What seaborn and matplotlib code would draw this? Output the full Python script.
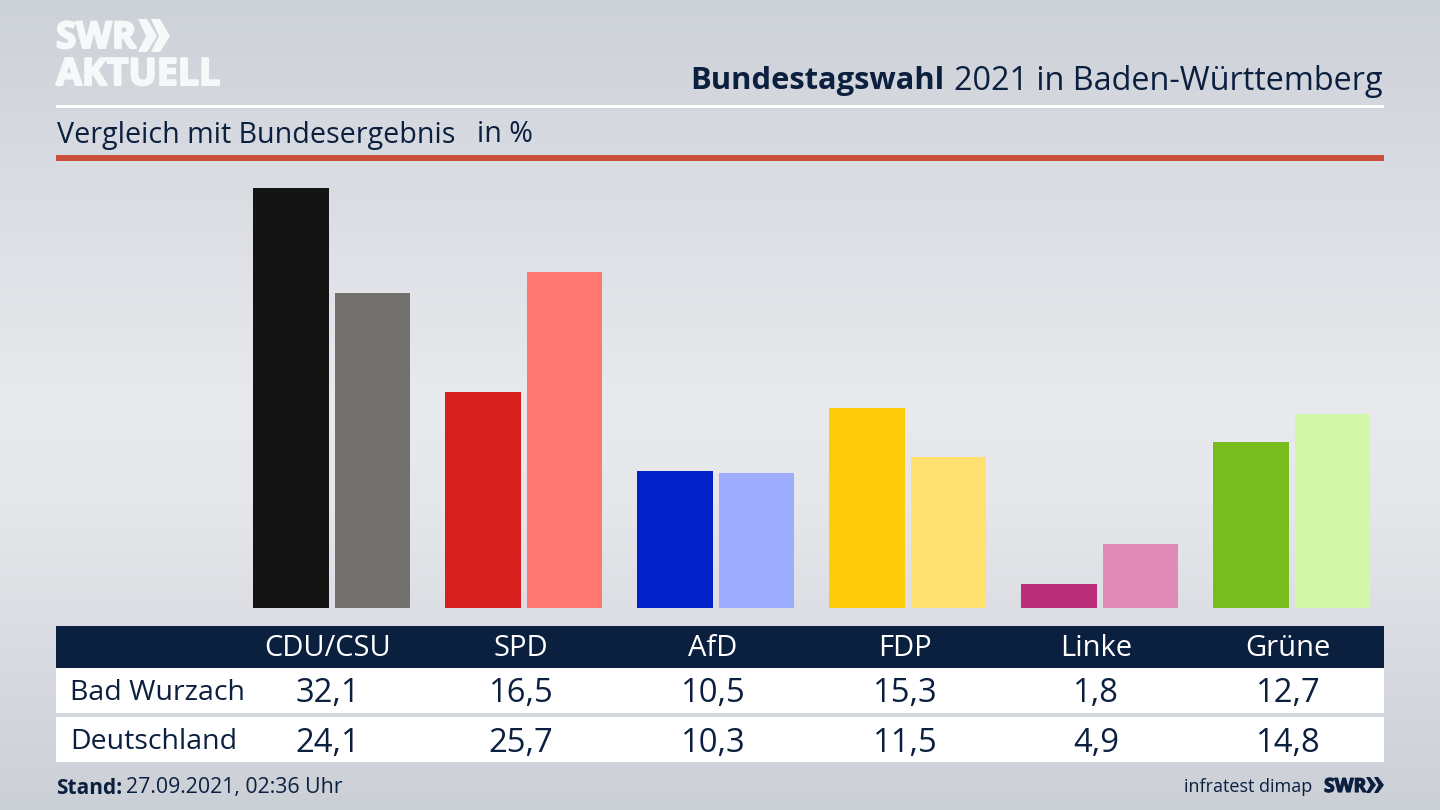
import matplotlib
matplotlib.use("Agg")
import matplotlib.patheffects as pe
import matplotlib.pyplot as plt
from matplotlib.colors import LinearSegmentedColormap
from matplotlib.patches import Polygon, Rectangle
import numpy as np
import pandas as pd
import seaborn as sns

parteien = ['CDU/CSU', 'SPD', 'AfD', 'FDP', 'Linke', 'Grüne']
bad_wurzach = [32.1, 16.5, 10.5, 15.3, 1.8, 12.7]
deutschland = [24.1, 25.7, 10.3, 11.5, 4.9, 14.8]
farben_ort = ['#141414', '#d7201e', '#0221c8', '#ffcc0a', '#bb2f7a', '#78bd1e']
farben_bund = ['#73716d', '#ff7771', '#9eacff', '#ffe070', '#e08ab8', '#d3f7a9']
tabellen_x = [328, 521, 713, 905, 1096, 1288]

NAVY = '#0b1f3f'
LOGO = '#f7f8f9'

sns.set_theme(style="white")
plt.rcParams['font.family'] = ['Open Sans', 'DejaVu Sans']

df = pd.DataFrame({
    'Partei': parteien * 2,
    'Prozent': bad_wurzach + deutschland,
    'Gebiet': ['Bad Wurzach'] * 6 + ['Deutschland'] * 6,
})

fig = plt.figure(figsize=(14.4, 8.1), dpi=100)

# background layer in pixel coordinates
bg = fig.add_axes([0, 0, 1, 1], zorder=0)
cmap = LinearSegmentedColormap.from_list(
    'bg', [(0, '#cdd1d8'), (0.5, '#e9eaee'), (0.62, '#e6e7eb'), (1, '#cbcfd6')])
bg.imshow(np.linspace(0, 1, 256).reshape(-1, 1), cmap=cmap, aspect='auto',
          extent=[0, 1440, 810, 0])
bg.set_xlim(0, 1440)
bg.set_ylim(810, 0)
bg.axis('off')

# bars
ax = fig.add_axes([235.6 / 1440, (810 - 608) / 810, 1152 / 1440, 433 / 810], zorder=1)
sns.barplot(data=df, x='Partei', y='Prozent', hue='Gebiet', width=0.85, gap=0.075,
            legend=False, ax=ax, saturation=1, linewidth=0)
for container, farben in zip(ax.containers, [farben_ort, farben_bund]):
    for bar, farbe in zip(container, farben):
        bar.set_facecolor(farbe)
        bar.set_edgecolor('none')
ax.set_xlim(-0.5, 5.5)
ax.set_ylim(0, 433 / 13.09)
ax.axis('off')
ax.patch.set_alpha(0)

# header
bg.text(1383, 81, '2021 in Baden-Württemberg', ha='right', va='center', fontsize=23.3,
        color=NAVY)
bg.text(944, 81, 'Bundestagswahl', ha='right', va='center', fontsize=22.2,
        fontweight='bold', color=NAVY)
bg.add_patch(Rectangle((56, 104.5), 1328, 3, color='white', lw=0))
bg.text(57, 135, 'Vergleich mit Bundesergebnis', va='center', fontsize=20.6, color=NAVY)
bg.text(477, 135, 'in %', va='center', fontsize=20.6, color=NAVY)
bg.add_patch(Rectangle((56, 155), 1328, 5.5, color='#c8503c', lw=0))

# logo
dick = [pe.withStroke(linewidth=1.5, foreground=LOGO)]
bg.text(56, 38, 'SWR', va='center', fontsize=26.5, fontweight='bold', color=LOGO,
        path_effects=dick)
bg.text(56, 75, 'AKTUELL', va='center', fontsize=27, fontweight='bold', color=LOGO,
        path_effects=dick)
for x0 in (138, 151):
    bg.add_patch(Polygon([(x0, 19), (x0 + 9, 19), (x0 + 19, 36), (x0 + 9, 52), (x0, 52),
                          (x0 + 8, 36)], color=LOGO, lw=0))

# table
bg.add_patch(Rectangle((56, 626), 1328, 42, color=NAVY, lw=0))
bg.add_patch(Rectangle((56, 668), 1328, 45, color='white', lw=0))
bg.add_patch(Rectangle((56, 717), 1328, 45, color='white', lw=0))
bg.text(70, 693, 'Bad Wurzach', va='center', fontsize=20.5, color=NAVY)
bg.text(70, 742, 'Deutschland', va='center', fontsize=20.5, color=NAVY)
for x, partei, wert_ort, wert_bund in zip(tabellen_x, parteien, bad_wurzach, deutschland):
    bg.text(x, 649, partei, ha='center', va='center', fontsize=21, color='white')
    bg.text(x, 694, f'{wert_ort:.1f}'.replace('.', ','), ha='center', va='center',
            fontsize=23.6, color=NAVY)
    bg.text(x, 743, f'{wert_bund:.1f}'.replace('.', ','), ha='center', va='center',
            fontsize=23.6, color=NAVY)

# footer
bg.text(56, 788, 'Stand:', va='center', fontsize=15, fontweight='bold', color=NAVY)
bg.text(126, 788, '27.09.2021, 02:36 Uhr', va='center', fontsize=15.3, color=NAVY)
bg.text(1312, 787, 'infratest dimap', ha='right', va='center', fontsize=13, color=NAVY)
bg.text(1324, 787, 'SWR', va='center', fontsize=14, fontweight='bold', color=NAVY,
        path_effects=[pe.withStroke(linewidth=0.8, foreground=NAVY)])
for x0 in (1366, 1374):
    bg.add_patch(Polygon([(x0, 777), (x0 + 4, 777), (x0 + 10, 785), (x0 + 4, 793), (x0, 793),
                          (x0 + 4.5, 785)], color=NAVY, lw=0))

fig.savefig('out.png', dpi=100)
plt.close()
